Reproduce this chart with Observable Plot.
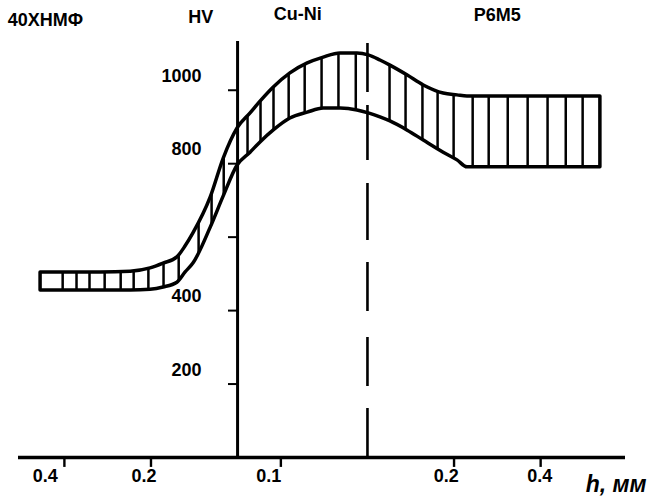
<!DOCTYPE html>
<html>
<head>
<meta charset="utf-8">
<script src="https://cdn.jsdelivr.net/npm/d3@7"></script>
<script src="https://cdn.jsdelivr.net/npm/@observablehq/plot@0.6"></script>
<style>
  html, body { margin: 0; padding: 0; background: #fff; }
  svg { display: block; }
</style>
</head>
<body>
<div id="chart"></div>
<script>
// ---- data ----
// position along the specimen, mm (0 = 40ХНМФ / Cu-Ni interface)
const xPos    = [-0.455, -0.316, -0.247, -0.201, -0.171, -0.139, -0.120, -0.102, -0.062, -0.032, 0, 0.030, 0.053, 0.083, 0.122, 0.162, 0.199, 0.238, 0.277, 0.303, 0.330, 0.353, 0.393, 0.430, 0.476, 0.508, 0.531, 0.654, 0.838];
// upper and lower bounds of hardness HV
const upperHV = [504, 504, 506, 515, 528, 545, 575, 610, 708, 814, 896, 937, 969, 1007, 1046, 1073, 1089, 1100, 1100, 1095, 1081, 1067, 1040, 1013, 991, 986, 983, 983, 983];
const lowerHV = [455, 455, 455, 457, 463, 476, 504, 528, 626, 711, 795, 830, 858, 890, 923, 939, 950, 950, 945, 937, 926, 915, 890, 863, 830, 809, 790, 790, 790];
// vertical hatching positions inside the band, mm
const hatchX = [-0.404, -0.372, -0.342, -0.307, -0.270, -0.240, -0.206, -0.171, -0.136, -0.090, -0.060, -0.032, 0.023, 0.053, 0.083, 0.118, 0.155, 0.194, 0.233, 0.273, 0.351, 0.388, 0.427, 0.462, 0.499, 0.543, 0.580, 0.624, 0.670, 0.716, 0.758, 0.797];
const yTicks = [200, 400, 600, 800, 1000];
const yTickLabels = [200, 400, 800, 1000];
const xTicks = [-0.4, -0.2, 0.1, 0.5, 0.7];
const xTickLabels = ["0.4", "0.2", "0.1", "0.2", "0.4"];
const interfaceX = 0;
const layerEndX = 0.3;
const zoneNames = ["40ХНМФ", "HV", "Cu-Ni", "Р6М5"];
const axisTitle = "h, мм";

// ---- layout ----
const band = xPos.map((x, i) => ({x, lo: lowerHV[i], hi: upperHV[i]}));
const xTickLabelShift = [-0.044, -0.016, -0.028, -0.018, -0.002]; // label offsets from ticks (mm)
const xLabelRows = xTicks.map((t, i) => ({x: t + xTickLabelShift[i], text: xTickLabels[i]}));
const zoneRows = [
  {x: -0.085, y: 1199, text: zoneNames[1]},
  {x: 0.139,  y: 1206, text: zoneNames[2]},
  {x: 0.600,  y: 1204, text: zoneNames[3]}
];
const font = "Liberation Sans, Arial, Helvetica, sans-serif";

const chart = Plot.plot({
  width: 652,
  height: 499,
  style: {fontFamily: font, background: "#fff", color: "#000", overflow: "visible"},
  x: {domain: [-0.506, 0.896], range: [18, 625], axis: null},
  y: {domain: [0, 1130], range: [457, 42], axis: null},
  marks: [
    // hatching (clipped to band afterwards) -- first rule mark
    Plot.ruleX(hatchX, {x: d => d, y1: 0, y2: 1130, stroke: "#000", strokeWidth: 2.5}),
    // band outline
    Plot.areaY(band, {x: "x", y1: "lo", y2: "hi", fill: "none", stroke: "#000", strokeWidth: 3.5,
      strokeLinejoin: "round", curve: "monotone-x"}),
    // interface line (y axis)
    Plot.ruleX([interfaceX], {y1: 0, y2: 1133, stroke: "#000", strokeWidth: 3}),
    // Cu-Ni / Р6М5 boundary (dashed)
    Plot.ruleX([layerEndX], {y1: 1127, y2: 0, stroke: "#000", strokeWidth: 2.6,
      strokeDasharray: "49,13,55,23,57,22,49,26,49,22,49"}),
    // x axis line
    Plot.ruleY([0], {x1: -0.506, x2: 0.896, stroke: "#000", strokeWidth: 3.4}),
    // y ticks
    Plot.ruleY(yTicks, {y: d => d, x1: -0.021, x2: interfaceX, stroke: "#000", strokeWidth: 2}),
    // x ticks
    Plot.ruleX(xTicks, {x: d => d, y1: 0, y2: -27, stroke: "#000", strokeWidth: 2.4}),
    // y tick labels
    Plot.text(yTickLabels, {x: -0.083, y: d => d, text: d => String(d), textAnchor: "end", dy: -14,
      fontSize: 18, fontWeight: "bold", fill: "#000"}),
    // x tick labels
    Plot.text(xLabelRows, {x: "x", y: 0, text: "text", dy: 19,
      fontSize: 18, fontWeight: "bold", fill: "#000"}),
    // axis title
    Plot.text([axisTitle], {x: 0.804, y: 0, text: d => d, textAnchor: "start", dy: 27,
      fontSize: 23, fontWeight: "bold", fontStyle: "italic", fill: "#000"}),
    // zone labels
    Plot.text([zoneNames[0]], {x: -0.531, y: 1191, text: d => d, textAnchor: "start",
      fontSize: 18, fontWeight: "bold", fill: "#000"}),
    Plot.text(zoneRows, {x: "x", y: "y", text: "text",
      fontSize: 18, fontWeight: "bold", fill: "#000"})
  ]
});

// clip hatching to the band shape
(function clipHatch(svg) {
  const bandPath = svg.querySelector('g[aria-label="area"] path');
  const hatch = svg.querySelector('g[aria-label="rule"]');
  if (!bandPath || !hatch) return;
  const ns = "http://www.w3.org/2000/svg";
  const defs = document.createElementNS(ns, "defs");
  const cp = document.createElementNS(ns, "clipPath");
  cp.setAttribute("id", "bandClip");
  cp.setAttribute("clipPathUnits", "userSpaceOnUse");
  const p = document.createElementNS(ns, "path");
  p.setAttribute("d", bandPath.getAttribute("d"));
  cp.appendChild(p);
  defs.appendChild(cp);
  svg.insertBefore(defs, svg.firstChild);
  const wrap = document.createElementNS(ns, "g");
  wrap.setAttribute("clip-path", "url(#bandClip)");
  hatch.parentNode.insertBefore(wrap, hatch);
  wrap.appendChild(hatch);
})(chart);

document.getElementById("chart").appendChild(chart);
</script>
</body>
</html>
